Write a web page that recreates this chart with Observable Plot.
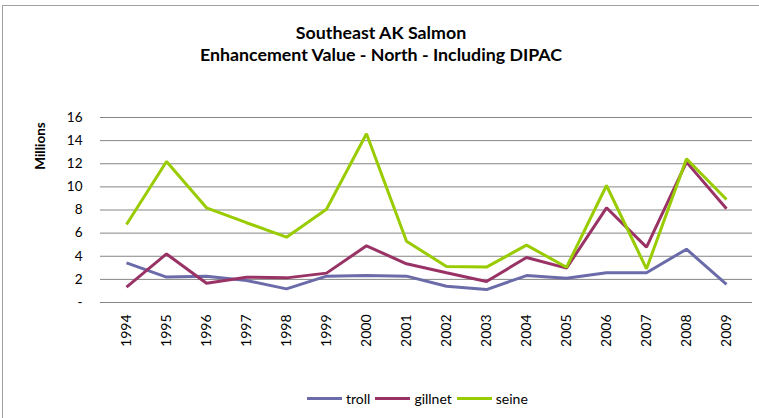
<!DOCTYPE html>
<html>
<head>
<meta charset="utf-8">
<script src="https://cdn.jsdelivr.net/npm/d3@7"></script>
<script src="https://cdn.jsdelivr.net/npm/@observablehq/plot@0.6"></script>
<style>
  html, body { margin: 0; padding: 0; background: #fff; overflow: hidden; width: 759px; height: 418px; }
  body { font-family: Lato, "Open Sans", sans-serif; color: #000; position: relative; }
  #frame { position: absolute; left: 2px; top: 5px; width: 800px; height: 500px; border: 1.5px solid #a0a0a0; box-sizing: border-box; }
  .title { position: absolute; left: 0; width: 762px; text-align: center; font-weight: bold; font-size: 17.8px; line-height: 22px; }
  #ylabel { position: absolute; left: 40px; top: 146px; transform: translate(-50%, -50%) rotate(-90deg); font-weight: bold; font-size: 13.5px; white-space: nowrap; }
  #chart { position: absolute; left: 0; top: 70px; }
  #legend { position: absolute; top: 390px; left: 307px; display: flex; align-items: center; font-size: 14px; white-space: nowrap; }
  .item { display: flex; align-items: center; margin-right: 5px; }
  .sw { width: 35px; height: 3px; margin-right: 4px; }
</style>
</head>
<body>
<div id="frame"></div>
<div class="title" style="top:21px">Southeast AK Salmon</div>
<div class="title" style="top:43px">Enhancement Value - North - Including DIPAC</div>
<div id="ylabel">Millions</div>
<div id="chart"></div>
<div id="legend"></div>
<script>
const years = ["1994","1995","1996","1997","1998","1999","2000","2001","2002","2003","2004","2005","2006","2007","2008","2009"];
const troll   = [3.43, 2.2, 2.28, 1.9, 1.18, 2.28, 2.33, 2.28, 1.41, 1.12, 2.33, 2.1, 2.57, 2.57, 4.61, 1.56];
const gillnet = [1.33, 4.2, 1.67, 2.19, 2.13, 2.54, 4.9, 3.35, 2.57, 1.82, 3.89, 2.97, 8.19, 4.79, 12.14, 8.1];
const seine   = [6.75, 12.2, 8.19, 6.9, 5.65, 8.07, 14.6, 5.3, 3.11, 3.06, 4.96, 3.05, 10.12, 2.91, 12.43, 8.91];
const seriesNames = ["troll", "gillnet", "seine"];
const seriesColors = ["#6b6baa", "#993366", "#99cc00"];
const yTicks = [0, 2, 4, 6, 8, 10, 12, 14, 16];

const seriesValues = [troll, gillnet, seine];
const data = seriesNames.flatMap((s, si) => years.map((y, i) => ({series: s, year: y, value: seriesValues[si][i]})));

const plot = Plot.plot({
  width: 759,
  height: 290,
  marginLeft: 100,
  marginRight: 7,
  marginTop: 47,
  marginBottom: 58,
  style: {fontFamily: "Lato, 'Open Sans', sans-serif", fontSize: "13px", color: "#000", background: "transparent"},
  x: {type: "point", domain: years, padding: 0.5, label: null},
  y: {domain: [0, 16], label: null},
  color: {domain: seriesNames, range: seriesColors},
  marks: [
    Plot.ruleY(yTicks, {stroke: "#858585", strokeWidth: 1}),
    Plot.axisY({ticks: yTicks, tickSize: 0, tickPadding: 18, tickFormat: d => d === 0 ? "-" : String(d), label: null, fontSize: 13.5}),
    Plot.axisX({tickSize: 0, tickPadding: 12, tickRotate: -90, label: null, fontSize: 14}),
    Plot.line(data, {x: "year", y: "value", z: "series", stroke: "series", strokeWidth: 3, strokeLinejoin: "miter", strokeLinecap: "butt"})
  ]
});
document.getElementById("chart").appendChild(plot);

const legend = document.getElementById("legend");
seriesNames.forEach((s, i) => {
  const it = document.createElement("div");
  it.className = "item";
  const sw = document.createElement("div");
  sw.className = "sw";
  sw.style.background = seriesColors[i];
  const t = document.createElement("span");
  t.textContent = s;
  it.appendChild(sw);
  it.appendChild(t);
  legend.appendChild(it);
});
</script>
</body>
</html>
